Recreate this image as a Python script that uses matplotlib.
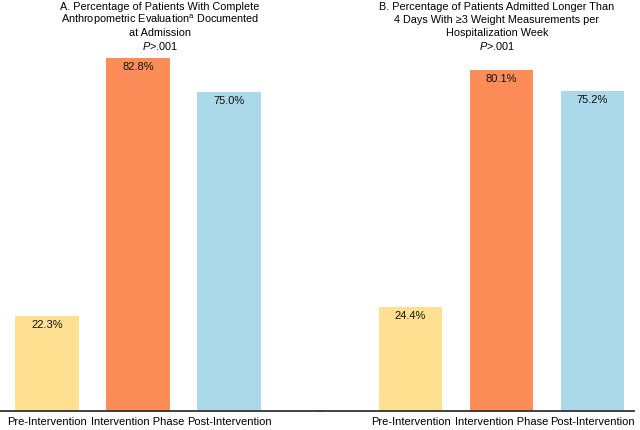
import matplotlib.pyplot as plt

plt.rcParams['font.family'] = ['Liberation Sans', 'DejaVu Sans']
plt.rcParams['mathtext.fontset'] = 'custom'
plt.rcParams['mathtext.rm'] = 'Liberation Sans'
plt.rcParams['mathtext.it'] = 'Liberation Sans:italic'

# data
phases = ['Pre-Intervention', 'Intervention Phase', 'Post-Intervention']
values_a = [22.3, 82.8, 75.0]
values_b = [24.4, 80.1, 75.2]
colors = ['#fee090', '#fc8d59', '#abd9e9']

title_a = ['A. Percentage of Patients With Complete',
           r'Anthropometric Evaluation$^{\mathrm{a}}$ Documented',
           'at Admission',
           r'$\it{P}$>.001']
title_b = ['B. Percentage of Patients Admitted Longer Than',
           '4 Days With \u22653 Weight Measurements per',
           'Hospitalization Week',
           r'$\it{P}$>.001']

W, H = 640, 430
fig = plt.figure(figsize=(W / 100, H / 100), dpi=100)

base = 411  # px from top
px_per_unit = 4.26
ytop = base / px_per_unit
spacing = 91.0

def make_panel(left, right, first_center, values, title, title_x):
    ax = fig.add_axes([left / W, (H - base) / H, (right - left) / W, base / H])
    ax.bar(range(len(values)), values, width=0.70, color=colors)
    ax.set_xlim(-(first_center - left) / spacing, (right - first_center) / spacing)
    ax.set_ylim(0, ytop)
    for i, v in enumerate(values):
        ax.text(i, v - 9 / px_per_unit, '%.1f%%' % v, ha='center', va='center',
                fontsize=8, color='#111111')
    ax.set_xticks(range(len(values)))
    ax.set_xticklabels(phases, fontsize=8, color='#000000')
    ax.tick_params(axis='x', length=0, pad=4)
    ax.set_yticks([])
    for s in ['top', 'left', 'right']:
        ax.spines[s].set_visible(False)
    ax.spines['bottom'].set_color('#333333')
    ax.spines['bottom'].set_linewidth(1.3)
    ax.patch.set_alpha(0)
    for k, line in enumerate(title):
        y = [7.5, 20, 33, 45.5][k]
        fig.text(title_x / W, 1 - y / H, line, ha='center', va='center',
                 fontsize=7.8, color='#000000')
    return ax

make_panel(0, 320, 47, values_a, title_a, 160)
make_panel(320, 634, 410.5, values_b, title_b, 497)

fig.savefig('out.png', dpi=100)
